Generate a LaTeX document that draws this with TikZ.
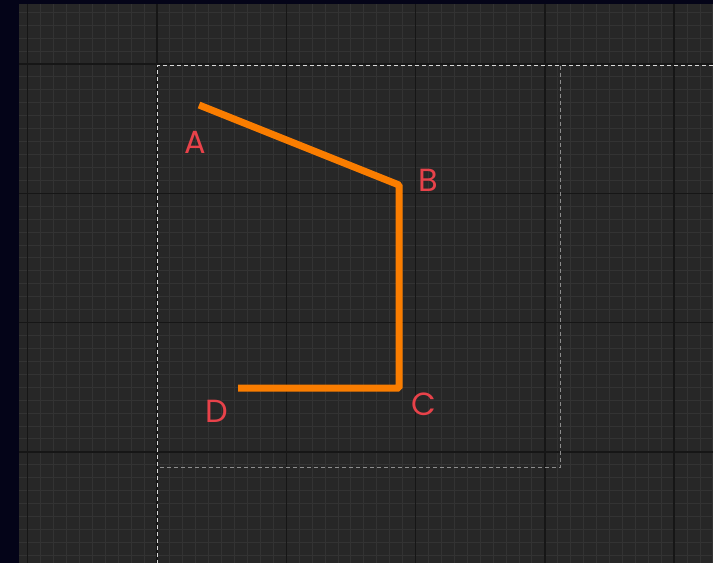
\documentclass[tikz,border=0pt]{standalone}
\usepackage{fontspec}
\setmainfont{Poppins}
\usepackage{xcolor}
\usetikzlibrary{calc}

\definecolor{outerbg}{RGB}{4,4,24}
\definecolor{canvasbg}{RGB}{39,39,39}
\definecolor{minorline}{RGB}{51,51,51}
\definecolor{majorline}{RGB}{22,22,22}
\definecolor{pathorange}{RGB}{250,125,0}
\definecolor{labelred}{RGB}{232,66,74}

\begin{document}
\begin{tikzpicture}[
  x=1pt, y=-1pt,
  minorgrid/.style={minorline, line width=1pt},
  majorgrid/.style={majorline, line width=1.5pt},
  % bright edge of the frame, fainter on the far sides
  frameedge/.style={white!85!black, line width=1pt, dash pattern=on 4pt off 3pt},
  framefar/.style={white!55!black, line width=1pt, dash pattern=on 4pt off 3pt},
  polyline/.style={pathorange, line width=7pt, line join=bevel},
  ptlabel/.style={text=labelred, font=\fontsize{32}{32}\selectfont, inner sep=0pt},
]

%%---- Background ----------------------------------------------------
\useasboundingbox (0,0) rectangle (713,563);
\fill[outerbg] (0,0) rectangle (713,563);
\fill[canvasbg] (19,4) rectangle (713,563);

%%---- Grid ----------------------------------------------------------
\begin{scope}
  \clip (19,4) rectangle (713,563);
  \foreach \i in {-10,...,43}
    \draw[minorgrid] ({157+\i*12.93},4) -- ({157+\i*12.93},563);
  \foreach \j in {-4,...,38}
    \draw[minorgrid] (19,{64+\j*12.93}) -- (713,{64+\j*12.93});
  \foreach \i in {-10,0,10,20,30,40}
    \draw[majorgrid] ({157+\i*12.93},4) -- ({157+\i*12.93},563);
  \foreach \j in {0,10,20,30}
    \draw[majorgrid] (19,{64+\j*12.93}) -- (713,{64+\j*12.93});
\end{scope}

%%---- Dashed frame --------------------------------------------------
\coordinate (frameNW) at (157.5,65.5);
\coordinate (frameSE) at (560,467.5);
\draw[framefar] (frameSE |- frameNW) -- (frameSE) -- (frameSE -| frameNW);
\draw[frameedge] (713,65.5) -- (frameNW) -- (157.5,563);

%%---- Points and path -----------------------------------------------
\coordinate (A) at (199,105);
\coordinate (B) at (399,185);
\coordinate (C) at (399,388);
\coordinate (D) at (238,388);

\draw[polyline] (A) -- (B) -- (C) -- (D);

\node[ptlabel] (lblA) at ($(A)+(-4,37)$) {A};
\node[ptlabel] (lblB) at ($(B)+(29,-5)$) {B};
\node[ptlabel] (lblC) at ($(C)+(25,16)$) {C};
\node[ptlabel] (lblD) at ($(D)+(-21,23)$) {D};

\end{tikzpicture}
\end{document}
